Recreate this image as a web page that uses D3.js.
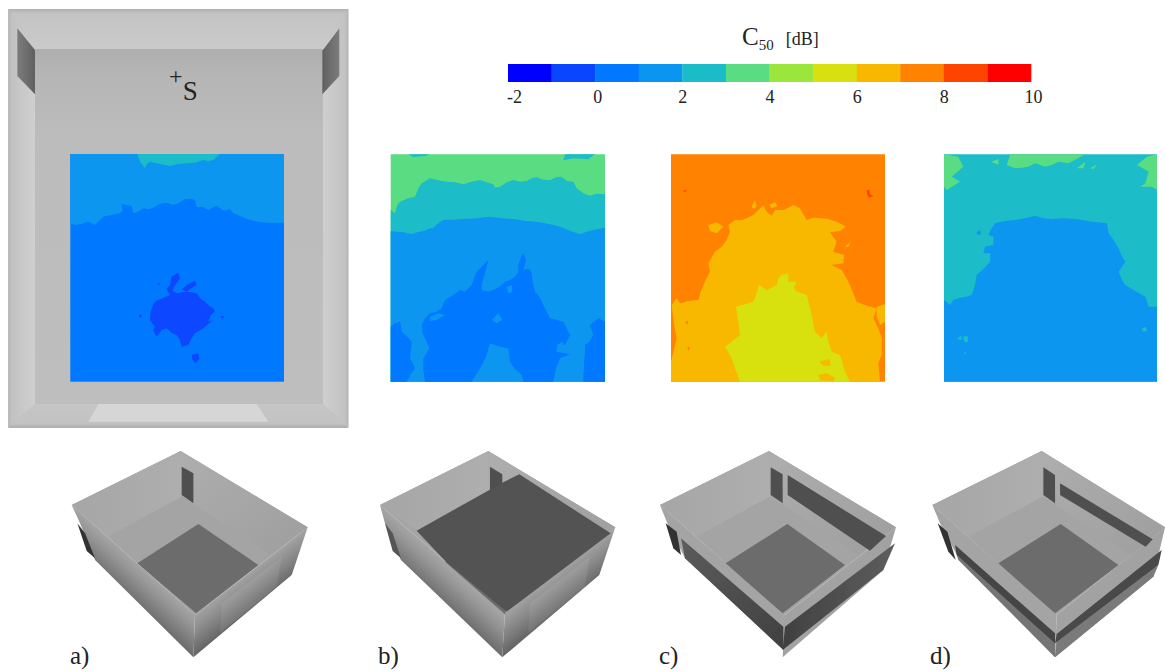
<!DOCTYPE html>
<html><head><meta charset="utf-8">
<script src="https://cdn.jsdelivr.net/npm/d3@7/dist/d3.min.js"></script>
<style>html,body{margin:0;background:#fff}svg{display:block}text{font-family:"Liberation Serif",serif;fill:#222}</style>
</head><body><svg id="c" width="1165" height="672"></svg>
<script>
// ---- colour scale ----
const bandEdges=[-2,-1,0,1,2,3,4,5,6,7,8,9,10];
const bandColors=["#0000ff","#0a46ff","#0078ff","#0a96f0","#1abcc8","#5adc82","#9ae63c","#d8e010","#f8b800","#ff8200","#ff4400","#ff0000"];
const tickValues=[-2,0,2,4,6,8,10];
const panelLabels=["a)","b)","c)","d)"];

// ---- C50 contour regions: [level, ring], in map units ----
const mapA=[
 [1.5,[[211,462],[852,462],[852,668],[800,668],[775,665],[750,660],[725,650],[700,640],[690,628],[672,632],[660,625],[650,618],[640,622],[625,630],[607,620],[590,622],[585,600],[570,596],[555,598],[535,610],[520,615],[500,608],[480,612],[462,622],[445,628],[430,625],[415,635],[400,640],[395,618],[365,613],[368,632],[360,640],[335,645],[310,650],[298,662],[285,675],[272,668],[260,665],[245,672],[230,675],[211,672]]],
 [2.5,[[412,462],[420,485],[435,505],[442,490],[450,485],[480,492],[510,498],[535,492],[560,490],[585,488],[610,480],[625,484],[640,480],[660,462]]],
 [-0.5,[[452,935],[458,918],[465,905],[488,895],[510,885],[500,868],[510,855],[515,830],[535,818],[540,835],[522,860],[518,872],[530,880],[560,875],[590,880],[600,895],[615,905],[628,918],[640,925],[645,935],[632,945],[625,965],[640,960],[610,985],[585,1000],[575,1015],[565,1035],[545,1040],[540,1020],[530,1005],[515,998],[500,985],[485,990],[470,1010],[460,990],[465,980],[450,960]]],
 [-0.5,[[545,868],[565,852],[585,842],[590,855],[572,866],[560,875]]],
 [-0.5,[[575,1065],[595,1060],[598,1075],[588,1090],[578,1080]]],
 [-0.5,[[417,945],[424,943],[424,952],[418,952]]],
 [-0.5,[[662,948],[671,948],[668,958]]],
 [-0.5,[[472,850],[479,850],[477,857]]]
];
const mapB=[
 [3.5,[[32,28],[675,28],[675,710],[32,710]]],
 [2.5,[[32,195],[45,205],[52,180],[60,170],[85,160],[105,155],[115,130],[125,115],[150,100],[175,106],[200,110],[225,112],[250,118],[275,110],[300,105],[320,112],[340,118],[345,128],[360,125],[380,112],[400,105],[420,110],[440,108],[455,100],[470,97],[490,104],[510,105],[530,96],[545,95],[560,108],[580,110],[590,130],[610,145],[630,152],[650,146],[675,148],[675,710],[32,710]]],
 [2.5,[[85,28],[150,28],[135,33],[100,36]]],
 [2.5,[[555,28],[645,28],[625,42],[580,40],[550,46]]],
 [1.5,[[32,258],[50,260],[70,262],[95,268],[112,262],[130,258],[145,252],[160,248],[175,235],[190,225],[220,224],[250,222],[290,220],[330,215],[365,220],[400,222],[440,228],[480,232],[510,238],[540,245],[570,258],[600,268],[620,260],[640,255],[675,248],[675,710],[32,710]]],
 [0.5,[[135,710],[130,675],[130,640],[148,610],[140,590],[128,565],[125,540],[135,520],[150,505],[170,500],[185,490],[195,465],[220,450],[240,435],[255,440],[275,420],[282,400],[290,380],[308,362],[325,345],[315,385],[305,420],[305,435],[325,440],[340,435],[358,425],[375,410],[390,405],[405,395],[415,380],[415,360],[422,340],[430,325],[438,345],[430,375],[448,372],[455,385],[458,412],[465,440],[478,455],[490,480],[500,500],[510,520],[530,525],[550,530],[560,550],[570,570],[555,600],[530,605],[530,620],[570,628],[540,640],[528,670],[520,710],[430,710],[425,690],[405,672],[390,650],[385,610],[360,605],[330,595],[318,635],[300,670],[275,710]]],
 [0.5,[[32,545],[45,535],[60,530],[65,560],[82,575],[95,590],[90,640],[105,670],[92,688],[80,710],[32,710]]],
 [0.5,[[610,710],[612,660],[615,620],[615,600],[628,590],[640,570],[630,540],[645,528],[655,520],[675,530],[675,710]]],
 [1.5,[[150,515],[175,505],[195,510],[170,525],[150,528]]],
 [1.5,[[335,525],[355,505],[367,525],[350,535]]],
 [1.5,[[380,425],[395,420],[398,440],[385,445]]],
 [1.5,[[90,690],[110,680],[118,695],[100,708]]],
 [1.5,[[530,600],[548,590],[555,610],[540,612]]]
];
const mapC=[
 [7.5,[[33,28],[675,28],[675,710],[33,710]]],
 [6.5,[[33,650],[45,600],[50,580],[45,555],[40,520],[35,480],[50,460],[60,475],[85,468],[115,465],[122,440],[130,420],[140,400],[150,380],[145,355],[155,338],[165,320],[185,305],[200,285],[210,260],[205,240],[225,225],[245,226],[260,220],[280,210],[290,200],[310,180],[320,200],[335,212],[345,195],[370,195],[385,188],[400,180],[420,190],[430,208],[440,225],[460,218],[480,220],[505,222],[530,230],[558,245],[540,258],[510,262],[530,290],[520,320],[552,330],[550,355],[515,360],[545,375],[555,392],[565,410],[578,440],[590,470],[620,482],[650,490],[640,520],[655,550],[665,580],[665,630],[655,655],[660,710],[33,710]]],
 [6.5,[[650,485],[675,478],[675,530],[660,540],[650,515]]],
 [6.5,[[145,240],[170,232],[190,245],[170,265],[150,258]]],
 [6.5,[[328,180],[345,172],[352,183],[335,190]]],
 [6.5,[[275,185],[285,165],[290,185],[280,192]]],
 [6.5,[[555,305],[572,290],[565,305]]],
 [7.5,[[75,530],[85,528],[82,540]]],
 [7.5,[[82,606],[90,606],[86,618]]],
 [5.5,[[240,710],[225,670],[215,640],[195,605],[215,590],[240,570],[235,530],[228,485],[255,478],[280,470],[290,445],[298,420],[320,435],[335,428],[350,420],[355,400],[365,390],[385,385],[385,410],[410,410],[402,428],[410,440],[440,450],[448,480],[455,510],[460,535],[465,560],[485,580],[500,560],[505,590],[515,620],[540,630],[548,655],[555,680],[570,710]]],
 [6.5,[[478,650],[510,642],[512,662],[490,662]]],
 [6.5,[[475,690],[500,685],[525,698],[520,708],[480,706]]],
 [8.5,[[620,135],[628,135],[630,148],[640,152],[628,158],[622,150]]],
 [8.5,[[70,136],[80,136],[78,140],[71,140]]]
];
const mapD=[
 [2.5,[[27,28],[665,28],[665,710],[27,710]]],
 [3.5,[[27,28],[70,35],[85,65],[50,95],[75,110],[35,135],[27,125]]],
 [3.5,[[665,28],[635,35],[605,60],[640,80],[630,115],[615,125],[650,125],[665,135]]],
 [3.5,[[225,28],[215,60],[240,70],[260,68],[280,65],[300,55],[330,65],[350,60],[370,50],[400,55],[425,42],[450,28]]],
 [3.5,[[168,50],[190,42],[190,60]]],
 [3.5,[[425,70],[450,50],[445,70]]],
 [3.5,[[465,70],[485,58],[475,72]]],
 [1.5,[[27,465],[45,480],[55,465],[70,460],[90,456],[110,450],[120,420],[125,390],[145,372],[165,350],[165,325],[145,325],[150,305],[175,300],[175,275],[160,270],[170,250],[180,235],[210,228],[240,225],[270,220],[300,213],[325,220],[350,222],[385,220],[420,222],[470,230],[515,235],[520,265],[535,285],[550,310],[558,330],[570,350],[550,380],[560,405],[570,420],[600,438],[630,455],[640,485],[665,485],[665,710],[27,710]]],
 [1.5,[[125,262],[135,255],[138,268],[128,270]]],
 [2.5,[[65,582],[78,572],[82,585]]],
 [2.5,[[84,575],[98,572],[100,590],[88,592]]],
 [2.5,[[620,550],[630,545],[636,558],[622,560]]],
 [2.5,[[86,622],[94,622],[92,630]]]
];

// ---- room plan (top view), in plan units ----
const planShell=[[25,27],[1045,27],[1045,1283],[25,1283]];
const planFloor=[[105,147],[968,147],[968,1212],[105,1212]];
const planWallTop=[[25,27],[1045,27],[968,147],[105,147]];
const planWallLeft=[[25,27],[105,147],[105,1212],[25,1283]];
const planWallRight=[[1045,27],[968,147],[968,1212],[1045,1283]];
const planWallBottom=[[105,1212],[968,1212],[1045,1283],[25,1283]];
const planDoor=[[265,1265],[295,1212],[770,1212],[805,1265]];
const planPanelL=[[52,85],[105,150],[105,283],[52,228]];
const planPanelR=[[1018,85],[967,152],[967,283],[1018,228]];
const planSource=[530,230];

// ---- room views, units measured from the apex of each model ----
const viewA=[
 ["rimL",[[-327,162],[0,0],[381,229],[43,492]]],
 ["extL",[[-327,162],[43,492],[38,619],[-257,327],[-302,217]]],
 ["extR",[[43,492],[381,229],[333,372],[38,619]]],
 ["door",[[123,457],[303,317],[288,407],[118,547]]],
 ["wallL",[[-327,162],[0,0],[3,137],[-217,257]]],
 ["wallR",[[0,0],[381,229],[268,312],[3,137]]],
 ["floor",[[3,137],[-217,257],[43,492],[268,312]]],
 ["patch",[[53,219],[-130,337],[46,487],[233,342]]],
 ["dark",[[3,47],[38,67],[38,157],[3,132]]],
 ["black",[[-310,217],[-287,247],[-257,322],[-282,300]]]
];
const viewB=[
 ["rimL",[[-325,162],[0,0],[381,229],[50,485]]],
 ["extL",[[-325,162],[50,485],[42,619],[-262,327],[-310,217]]],
 ["extR",[[50,485],[381,229],[333,372],[42,619]]],
 ["door",[[125,457],[305,317],[290,407],[120,547]]],
 ["wallL",[[-325,162],[0,0],[3,137],[-215,239]]],
 ["wallR",[[0,0],[381,229],[268,312],[3,137]]],
 ["patch",[[-130,332],[-112,330],[53,480],[50,490]]],
 ["dark",[[5,47],[42,70],[42,157],[5,132]]],
 ["plate",[[-215,239],[42,95],[93,70],[367,247],[55,482],[-127,332]]],
 ["black2",[[-310,217],[-287,247],[-262,322],[-287,300]]]
];
const viewC=[
 ["rimL",[[-327,162],[0,0],[381,229],[48,492]]],
 ["rimL",[[-327,162],[48,492],[48,600],[-252,322],[-305,217]]],
 ["rimR",[[48,492],[381,229],[343,357],[41,619]]],
 ["bandL",[[-264,262],[43,527],[43,597],[-252,322]]],
 ["bandR",[[48,527],[378,277],[343,357],[41,597]]],
 ["wallL",[[-327,162],[0,0],[3,137],[-217,257]]],
 ["wallR",[[0,0],[381,229],[268,312],[3,137]]],
 ["floor",[[3,137],[-217,257],[43,492],[268,312]]],
 ["patch",[[55,219],[-130,337],[41,487],[228,342]]],
 ["dark",[[5,49],[41,70],[41,157],[5,132]]],
 ["dark",[[56,72],[351,255],[303,299],[56,132]]],
 ["black",[[-310,217],[-277,242],[-264,312],[-287,292]]]
];
const viewD=[
 ["rimL",[[-328,162],[0,0],[370,229],[45,492]]],
 ["rimL",[[-328,162],[45,492],[40,619],[-255,312],[-305,217]]],
 ["rimR",[[45,492],[370,229],[335,377],[40,619]]],
 ["midL",[[-255,312],[40,572],[40,619],[-250,327]]],
 ["midR",[[45,572],[350,342],[335,377],[40,619]]],
 ["stripL",[[-260,282],[40,547],[40,577],[-255,312]]],
 ["stripR",[[45,549],[360,297],[350,342],[40,577]]],
 ["wallL",[[-328,162],[0,0],[3,137],[-220,257]]],
 ["wallR",[[0,0],[370,229],[268,312],[3,137]]],
 ["floor",[[3,137],[-220,257],[40,492],[268,312]]],
 ["patch",[[57,219],[-130,337],[40,487],[230,342]]],
 ["dark",[[5,49],[40,72],[40,157],[5,132]]],
 ["dark",[[55,97],[333,265],[312,287],[55,132]]],
 ["black",[[-312,217],[-283,242],[-258,327],[-280,302]]]
];

// ---- layout ----
const svg=d3.select("#c");
const defs=svg.append("defs");
function grad(id,x1,y1,x2,y2,stops,user){
  const g=defs.append("linearGradient").attr("id",id).attr("x1",x1).attr("y1",y1).attr("x2",x2).attr("y2",y2);
  if(user) g.attr("gradientUnits","userSpaceOnUse");
  stops.forEach(s=>g.append("stop").attr("offset",s[0]).attr("stop-color",s[1]));
}
defs.append("filter").attr("id","soft").append("feGaussianBlur").attr("stdDeviation",0.6);
defs.append("filter").attr("id","softer").append("feGaussianBlur").attr("stdDeviation",0.35);
grad("gFloorTop",0,0,0,1,[[0,"#aeaeae"],[0.08,"#b6b6b6"],[0.25,"#bcbcbc"],[1,"#bebebe"]]);
grad("gWallTop",0,0,0,1,[[0,"#b0b0b0"],[0.12,"#c4c4c4"],[1,"#cacaca"]]);
grad("gWallSide",0,0,1,0,[[0,"#b4b4b4"],[0.12,"#c2c2c2"],[1,"#cfcfcf"]]);
grad("gWallSideR",1,0,0,0,[[0,"#b4b4b4"],[0.12,"#c2c2c2"],[1,"#cfcfcf"]]);
grad("gWallBot",0,0,0,1,[[0,"#c6c6c6"],[0.85,"#c2c2c2"],[1,"#aaaaaa"]]);
grad("gPanelL",0,0,1,0,[[0,"#7c7c7c"],[1,"#606060"]]);
grad("gPanelR",1,0,0,0,[[0,"#7c7c7c"],[1,"#606060"]]);
grad("gExtL",14.3,164,-7.3,188.3,[[0,"#a4a4a4"],[0.3,"#969696"],[1,"#6a6a6a"]],true);
grad("gExtR",14.3,164,34.3,189.7,[[0,"#a2a2a2"],[0.35,"#8e8e8e"],[1,"#646464"]],true);
grad("gBandL",0,0,1,1,[[0,"#5c5c5c"],[1,"#404040"]]);
grad("gBandR",0,0,1,0,[[0,"#404040"],[1,"#5e5e5e"]]);
grad("gWallBack",0,0,1,0,[[0,"#a6a6a6"],[1,"#aeaeae"]]);
grad("gWallBack2",0,0,1,1,[[0,"#aeaeae"],[1,"#9e9e9e"]]);
const bandScale=d3.scaleQuantize().domain([bandEdges[0],bandEdges[bandEdges.length-1]]).range(bandColors);
const ringPath=d3.line().curve(d3.curveLinearClosed);

// colour bar
const barX=d3.scaleLinear().domain([-2,10]).range([508,1031]);
const barTop=64,barH=18;
svg.append("g").selectAll("rect").data(bandEdges.slice(0,-1)).join("rect")
  .attr("x",d=>barX(d)).attr("y",barTop).attr("width",d=>barX(d+1)-barX(d)+0.3).attr("height",barH)
  .attr("fill",d=>bandScale(d+0.5));
const barAxis=d3.axisBottom(barX).tickValues(tickValues).tickSize(0).tickPadding(8).tickFormat(d=>String(d));
const axG=svg.append("g").attr("transform",`translate(0,${barTop+barH})`).call(barAxis);
axG.select(".domain").remove();
axG.selectAll("text").attr("font-family","Liberation Serif").attr("font-size",18).attr("fill","#222").attr("dy","0.71em")
  .attr("dx",d=>d===-2?6:d===0?2:d===10?2:0);
const title=svg.append("text").attr("x",742).attr("y",45).attr("font-size",25);
title.append("tspan").text("C");
title.append("tspan").text("50").attr("font-size",15).attr("dy",5);
title.append("tspan").text("[dB]").attr("font-size",18).attr("dy",-5).attr("dx",12);

// plan
const planX=d3.scaleLinear().domain([0,1080]).range([0,360]);
const planY=d3.scaleLinear().domain([0,1305]).range([0,435]);
const planRing=r=>ringPath(r.map(p=>[planX(p[0]),planY(p[1])]));
const planG=svg.append("g").attr("filter","url(#soft)");
[[planShell,"#b4b4b4"],[planWallTop,"url(#gWallTop)"],[planWallLeft,"url(#gWallSide)"],[planWallRight,"url(#gWallSideR)"],[planWallBottom,"url(#gWallBot)"],[planFloor,"url(#gFloorTop)"],[planDoor,"#d6d6d6"],[planPanelL,"url(#gPanelL)"],[planPanelR,"url(#gPanelR)"]]
 .forEach(([r,f])=>planG.append("path").attr("d",planRing(r)).attr("fill",f));
const sx=planX(planSource[0]),sy=planY(planSource[1]);
svg.append("text").attr("x",sx-1).attr("y",sy+7).attr("font-size",24).attr("text-anchor","middle").text("+");
svg.append("text").attr("x",sx+6).attr("y",sy+23).attr("font-size",27).text("S");

// maps
const maps=[
 {data:mapA,dx:[211,852],dy:[462,1145],rx:[70.3,284],ry:[154,381.7],base:0.5},
 {data:mapB,dx:[32,675],dy:[28,710],rx:[390.7,605],ry:[154.3,381.7],base:null},
 {data:mapC,dx:[33,675],dy:[28,710],rx:[671,885],ry:[154.3,381.7],base:null},
 {data:mapD,dx:[27,665],dy:[28,710],rx:[944,1157],ry:[154.3,381.7],base:null}
];
maps.forEach(m=>{
  const x=d3.scaleLinear().domain(m.dx).range(m.rx);
  const y=d3.scaleLinear().domain(m.dy).range(m.ry);
  const g=svg.append("g").attr("filter","url(#softer)");
  if(m.base!==null) g.append("rect").attr("x",m.rx[0]).attr("y",m.ry[0]).attr("width",m.rx[1]-m.rx[0]).attr("height",m.ry[1]-m.ry[0]).attr("fill",bandScale(m.base));
  g.selectAll("path").data(m.data).join("path")
   .attr("d",d=>ringPath(d[1].map(p=>[x(p[0]),y(p[1])])))
   .attr("fill",d=>bandScale(d[0]));
});

// views
const viewFill={extL:"url(#gExtL)",extR:"url(#gExtR)",door:"rgba(255,255,255,0.08)",wallL:"url(#gWallBack)",wallR:"url(#gWallBack2)",floor:"#a4a4a4",patch:"#6c6c6c",dark:"#505050",black:"#333333",black2:"#555555",plate:"#525252",rimL:"#a4a4a4",rimR:"#a2a2a2",bandL:"url(#gBandL)",bandR:"url(#gBandR)",midL:"#747474",midR:"#7a7a7a",stripL:"#454545",stripR:"#484848"};
const viewScale=d3.scaleLinear().domain([0,3]).range([0,1]);
const views=[{d:viewA,x:180.7},{d:viewB,x:488.3},{d:viewC,x:769},{d:viewD,x:1041.7}];
const apexY=451;
views.forEach(v=>{
  const g=svg.append("g").attr("transform",`translate(${v.x},${apexY})`).attr("filter","url(#soft)");
  g.selectAll("path").data(v.d).join("path")
   .attr("d",d=>ringPath(d[1].map(p=>[viewScale(p[0]),viewScale(p[1])])))
   .attr("fill",d=>viewFill[d[0]]);
});
const labelPos={"a)":70,"b)":378,"c)":659,"d)":930};
svg.selectAll("text.lab").data(panelLabels).join("text").attr("class","lab")
 .attr("x",d=>labelPos[d]).attr("y",664).attr("font-size",25).text(d=>d);
</script></body></html>
